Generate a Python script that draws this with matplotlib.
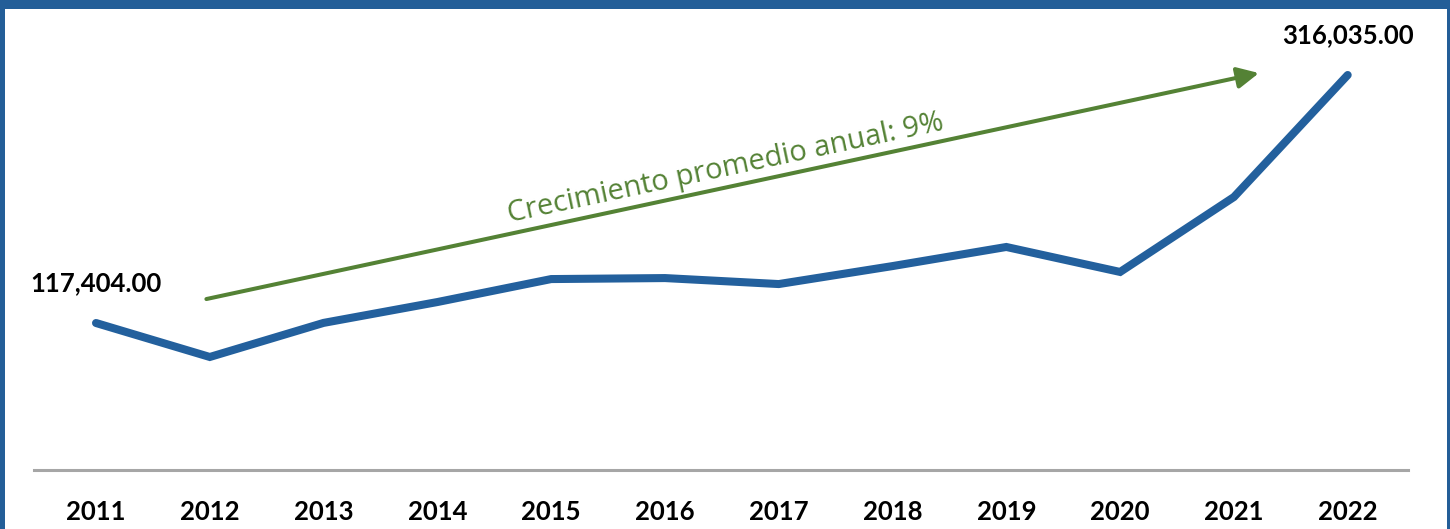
import matplotlib
matplotlib.use("Agg")
import matplotlib.pyplot as plt
from matplotlib.patches import Rectangle

plt.rcParams['font.family'] = ['Lato', 'DejaVu Sans']

# data
years = ['2011', '2012', '2013', '2014', '2015', '2016',
         '2017', '2018', '2019', '2020', '2021', '2022']
values = [117404, 90200, 117500, 134200, 152600, 153400,
          148600, 163000, 178300, 158300, 218300, 316035]

trend_text = 'Crecimiento promedio anual: 9%'
# arrow ends (year index, value)
arrow_start = (0.97, 136600)
arrow_end = (10.22, 317600)
trend_label_pos = (5.53, 241500)

blue = '#23609d'
green = '#548235'
border = '#235e98'

fig = plt.figure(figsize=(14.5, 5.29), dpi=100)
fig.patch.set_facecolor('white')

# blue frame around the chart
fig.add_artist(Rectangle((0, 1 - 9 / 529), 1, 9 / 529, transform=fig.transFigure,
                         facecolor=border, edgecolor='none', zorder=0))
fig.add_artist(Rectangle((0, 0), 5 / 1450, 1, transform=fig.transFigure,
                         facecolor=border, edgecolor='none', zorder=0))
fig.add_artist(Rectangle((1447 / 1450, 0), 3 / 1450, 1, transform=fig.transFigure,
                         facecolor=border, edgecolor='none', zorder=0))

ax = fig.add_axes([34 / 1450, (529 - 469.6) / 529, 1374 / 1450, 460.6 / 529])
ax.set_facecolor('none')
x = list(range(len(years)))
ax.plot(x, values, color=blue, lw=5.8, solid_capstyle='round',
        solid_joinstyle='miter', zorder=3)

ax.set_xlim(-0.545, 11.53)
ax.set_ylim(0, 368900)

ax.axhline(0, color='#a6a6a6', lw=2.2, clip_on=False, zorder=1)
for s in ax.spines.values():
    s.set_visible(False)
ax.set_yticks([])
ax.set_xticks(x, years)
ax.tick_params(axis='x', length=0, pad=22)
for lbl in ax.get_xticklabels():
    lbl.set_fontsize(18.5)
    lbl.set_fontweight('bold')
    lbl.set_color('black')

# first and last value labels
for i in (0, len(values) - 1):
    ax.annotate(f'{values[i]:,.2f}', (x[i], values[i]), xytext=(0, 29),
                textcoords='offset points', ha='center', va='center',
                fontsize=18.5, fontweight='bold', color='black')

# trend arrow
ax.annotate('', xy=arrow_end, xytext=arrow_start,
            arrowprops=dict(arrowstyle='-|>,head_length=0.65,head_width=0.32',
                            color=green, lw=2.9, shrinkA=0, shrinkB=0,
                            mutation_scale=20, capstyle='round'))
ax.text(trend_label_pos[0], trend_label_pos[1], trend_text, color=green,
        fontsize=21, family=['Open Sans', 'DejaVu Sans'],
        rotation=12, rotation_mode='anchor', ha='center', va='center')

fig.savefig('out.png', dpi=100, facecolor='white')
